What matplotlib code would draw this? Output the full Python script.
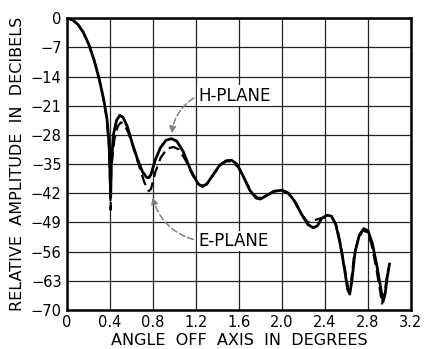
import matplotlib
matplotlib.use("Agg")
from matplotlib import pyplot as plt

# H-plane (solid)
h_angle = [0.00, 0.05, 0.10, 0.15, 0.20, 0.25, 0.30, 0.34, 0.37, 0.39, 0.40, 0.405, 0.41, 0.43,
           0.46, 0.49, 0.52, 0.56, 0.60, 0.65, 0.70, 0.74, 0.76, 0.78, 0.82, 0.87, 0.92, 0.97,
           1.02, 1.08, 1.15, 1.22, 1.26, 1.30, 1.36, 1.42, 1.48, 1.53, 1.58, 1.64, 1.70, 1.76,
           1.80, 1.86, 1.93, 2.00, 2.06, 2.12, 2.18, 2.24, 2.29, 2.33, 2.37, 2.42, 2.46, 2.50,
           2.54, 2.58, 2.61, 2.63, 2.65, 2.68, 2.72, 2.76, 2.80, 2.84, 2.88, 2.92, 2.94, 2.96,
           2.98, 3.00]
h_db = [0, -0.4, -1.5, -3.4, -6.2, -10, -14.8, -19.5, -24, -30, -38, -43, -36, -28,
        -24.5, -23.3, -23.8, -26, -29.5, -33.5, -36.8, -38.2, -38.3, -37.5, -34, -31, -29.3, -28.9,
        -29.5, -32, -36.5, -39.8, -40.4, -39.8, -37.5, -35.3, -34.2, -34.1, -35, -38, -41.3, -43.2,
        -43.4, -42.5, -41.5, -41.3, -42, -44, -47, -49.5, -50.3, -49.8, -48, -47.3, -47.5, -49.5,
        -54, -60, -65, -66.2, -63, -56, -52, -50.5, -51, -54, -59, -65, -68, -66,
        -62, -59]

# E-plane (dashed)
e_angle = [0.00, 0.05, 0.10, 0.15, 0.20, 0.25, 0.30, 0.34, 0.37, 0.39, 0.40, 0.405, 0.41, 0.44,
           0.47, 0.50, 0.53, 0.57, 0.62, 0.67, 0.72, 0.76, 0.78, 0.82, 0.87, 0.93, 0.99, 1.04,
           1.10, 1.17, 1.23, 1.27, 1.31, 1.37, 1.43, 1.49, 1.54, 1.60, 1.66, 1.72, 1.78, 1.84,
           1.92, 1.99, 2.05, 2.12, 2.18, 2.24, 2.30, 2.36, 2.42, 2.47, 2.51, 2.55, 2.59, 2.62,
           2.64, 2.67, 2.71, 2.75, 2.79, 2.83, 2.87, 2.91, 2.93, 2.95, 2.97, 2.99]
e_db = [0, -0.4, -1.5, -3.4, -6.2, -10, -14.8, -19.7, -24.5, -31, -40, -46, -36, -29,
        -26, -25, -25.4, -27.5, -31.5, -35.5, -39.5, -41.5, -41, -37, -33.5, -31.3, -30.9, -31.5,
        -34, -37.8, -40, -40.2, -39.5, -37.2, -35, -34.3, -34.5, -36, -39, -42, -43.2, -42.6,
        -41.6, -41.3, -41.8, -44.2, -47, -49, -48.5, -48, -47.8, -48, -50, -55, -61, -65.5,
        -64, -57, -53, -51, -51.3, -54, -59, -65, -68.5, -67, -63, -60]

x_ticks = [0, 0.4, 0.8, 1.2, 1.6, 2.0, 2.4, 2.8, 3.2]
x_labels = ['0', '0.4', '0.8', '1.2', '1.6', '2.0', '2.4', '2.8', '3.2']
y_ticks = [0, -7, -14, -21, -28, -35, -42, -49, -56, -63, -70]

fig = plt.figure(figsize=(4.25, 3.49), dpi=100)
ax = fig.add_axes([0.158, 0.112, 0.809, 0.836])

ax.plot(h_angle, h_db, color='black', lw=2.0, zorder=3)
ax.plot(e_angle, e_db, color='black', lw=1.6, ls=(0, (5, 2.5)), zorder=3)

ax.set_xlim(0, 3.2)
ax.set_ylim(-70, 0)
ax.set_xticks(x_ticks)
ax.set_xticklabels(x_labels)
ax.set_yticks(y_ticks)
ax.set_yticklabels([str(v).replace('-', '\u2212') for v in y_ticks])
ax.tick_params(length=0, labelsize=10.5, pad=4)
ax.grid(True, color='#222222', lw=0.9)
for s in ax.spines.values():
    s.set_linewidth(1.8)

ax.set_xlabel('ANGLE  OFF  AXIS  IN  DEGREES', fontsize=11.5, labelpad=2)
ax.set_ylabel('RELATIVE  AMPLITUDE  IN  DECIBELS', fontsize=11.5, labelpad=4)

box = dict(facecolor='white', edgecolor='none', pad=1)
ax.text(1.22, -18.6, 'H-PLANE', fontsize=12, va='center', ha='left', bbox=box, zorder=4)
ax.text(1.22, -53.5, 'E-PLANE', fontsize=12, va='center', ha='left', bbox=box, zorder=4)

arrow = dict(arrowstyle='-|>', color='gray', lw=1.1, ls=(0, (4, 2)), mutation_scale=10)
ax.annotate('', xy=(0.97, -28.3), xytext=(1.2, -18.8),
            arrowprops=dict(arrow, connectionstyle='arc3,rad=0.25'))
ax.annotate('', xy=(0.79, -42.3), xytext=(1.2, -53.3),
            arrowprops=dict(arrow, connectionstyle='arc3,rad=-0.3'))

fig.savefig('out.png', dpi=100)
